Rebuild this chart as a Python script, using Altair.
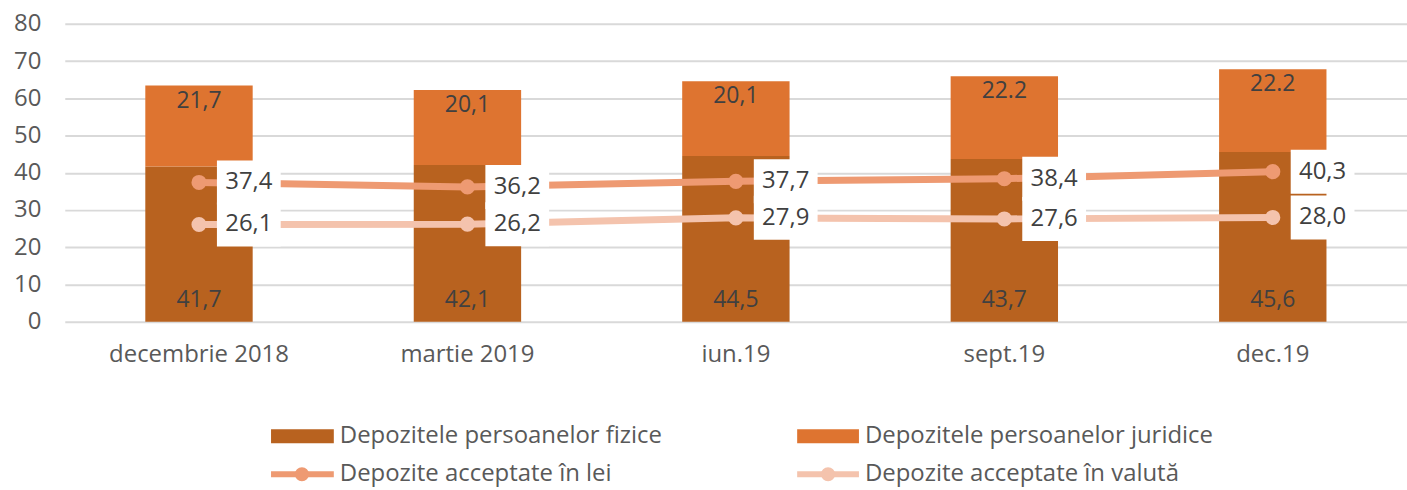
import altair as alt
import pandas as pd

categories = ["decembrie 2018", "martie 2019", "iun.19", "sept.19", "dec.19"]
fizice = [41.7, 42.1, 44.5, 43.7, 45.6]
juridice = [21.7, 20.1, 20.1, 22.2, 22.2]
juridice_labels = ["21,7", "20,1", "20,1", "22.2", "22.2"]
lei = [37.4, 36.2, 37.7, 38.4, 40.3]
valuta = [26.1, 26.2, 27.9, 27.6, 28.0]

series_names = [
    "Depozitele persoanelor fizice",
    "Depozitele persoanelor juridice",
    "Depozite acceptate în lei",
    "Depozite acceptate în valută",
]

C_FIZ = "#B8621F"
C_JUR = "#DE7430"
C_LEI = "#EE9A72"
C_VAL = "#F4C3AD"
TXT = "#404040"
GRAY = "#595959"
FONT = "Open Sans"


def fmt(v):
    return f"{v:.1f}".replace(".", ",")


bars = pd.DataFrame({
    "cat": categories,
    "fizice": fizice,
    "juridice": juridice,
    "total": [a + b for a, b in zip(fizice, juridice)],
    "fiz_lbl": [fmt(v) for v in fizice],
    "jur_lbl": juridice_labels,
})
lines = pd.DataFrame({
    "cat": categories * 2,
    "serie": ["lei"] * 5 + ["valuta"] * 5,
    "val": lei + valuta,
    "lbl": [fmt(v) for v in lei + valuta],
})

xaxis = alt.Axis(labelAngle=0, labelFontSize=24, labelColor=GRAY, labelFont=FONT,
                 labelPadding=21, labelLimit=400, ticks=False, domain=False, grid=False)
xenc = alt.X("cat:N", sort=categories, title=None,
             scale=alt.Scale(paddingInner=0.6, paddingOuter=0.3), axis=xaxis)
yscale = alt.Scale(domain=[0, 80], nice=False)
yaxis = alt.Axis(values=list(range(0, 81, 10)), labelFontSize=24, labelColor=GRAY,
                 labelFont=FONT, labelPadding=24, ticks=False, domain=False,
                 labelOverlap=False, grid=True, gridColor="#D9D9D9", gridWidth=2)


def yenc(field):
    return alt.Y(field, scale=yscale, axis=yaxis, title=None)


base = alt.Chart(bars)
bar_fiz = base.mark_bar(color=C_FIZ).encode(x=xenc, y=yenc("fizice:Q"), y2=alt.datum(0))
bar_jur = base.mark_bar(color=C_JUR).encode(x=xenc, y=yenc("total:Q"), y2="fizice:Q")
lbl_fiz = base.mark_text(fontSize=23, color=TXT, font=FONT, baseline="middle", dy=-22).encode(
    x=xenc, y=alt.Y(datum=0, scale=yscale, axis=yaxis, title=None), text="fiz_lbl:N")
lbl_jur = base.mark_text(fontSize=23, color=TXT, font=FONT, baseline="middle", dy=15).encode(
    x=xenc, y=yenc("total:Q"), text="jur_lbl:N")

lcolor = alt.Color("serie:N", scale=alt.Scale(domain=["lei", "valuta"], range=[C_LEI, C_VAL]),
                   legend=None)
lb = alt.Chart(lines)
line_m = lb.mark_line(strokeWidth=7).encode(
    x=xenc, y=yenc("val:Q"), color=lcolor, detail="serie:N")
pts = lb.mark_point(filled=True, opacity=1, size=230, shape="circle").encode(
    x=xenc, y=yenc("val:Q"), color=lcolor)
box = lb.mark_point(shape="M-1,-0.69L1,-0.69L1,0.69L-1,0.69Z", size=4096, filled=True,
                    fill="white", opacity=1, strokeWidth=0, xOffset=50).encode(
    x=xenc, y=yenc("val:Q"))
lbl_line = lb.mark_text(fontSize=24, color=TXT, font=FONT, baseline="middle", dx=50).encode(
    x=xenc, y=yenc("val:Q"), text="lbl:N")

# legend
leg = alt.Chart(pd.DataFrame({"name": series_names}))


def one(i):
    return leg.transform_filter(alt.datum.name == series_names[i])


def leg_text(i, x, y):
    return one(i).mark_text(
        fontSize=24, color=GRAY, font=FONT, align="left", baseline="middle").encode(
        x=alt.value(x), y=alt.value(y), text="name:N")


r1, r2 = 414, 452
c1, c2 = 207, 735
legend_layers = [
    one(0).mark_rect(color=C_FIZ).encode(x=alt.value(c1), x2=alt.value(c1 + 63),
                                          y=alt.value(r1 - 7), y2=alt.value(r1 + 7)),
    one(1).mark_rect(color=C_JUR).encode(x=alt.value(c2), x2=alt.value(c2 + 62),
                                          y=alt.value(r1 - 7), y2=alt.value(r1 + 7)),
    one(2).mark_rule(color=C_LEI, strokeWidth=6).encode(x=alt.value(c1), x2=alt.value(c1 + 63),
                                                         y=alt.value(r2)),
    one(2).mark_point(color=C_LEI, filled=True, opacity=1, size=200).encode(
        x=alt.value(c1 + 31), y=alt.value(r2)),
    one(3).mark_rule(color=C_VAL, strokeWidth=6).encode(x=alt.value(c2), x2=alt.value(c2 + 62),
                                                         y=alt.value(r2)),
    one(3).mark_point(color=C_VAL, filled=True, opacity=1, size=200).encode(
        x=alt.value(c2 + 31), y=alt.value(r2)),
    leg_text(0, c1 + 69, r1),
    leg_text(1, c2 + 68, r1),
    leg_text(2, c1 + 69, r2),
    leg_text(3, c2 + 68, r2),
]

chart = alt.layer(
    bar_fiz, bar_jur, lbl_fiz, lbl_jur, line_m, pts, box, lbl_line, *legend_layers
).properties(
    width=1347, height=299,
    padding={"left": 65, "top": 23, "right": 0, "bottom": 168},
    autosize=alt.AutoSizeParams(type="none"),
    background="white",
).configure_view(stroke=None)

chart.save("out.html", embed_options={"renderer": "svg", "actions": False})
